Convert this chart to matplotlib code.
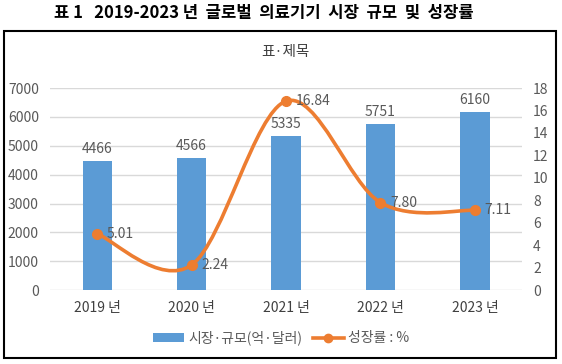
"""
2019-2023 global medical device market size (bars) and growth rate (smoothed line).
"""

import matplotlib.pyplot as plt
from matplotlib.lines import Line2D
from matplotlib.patches import Patch, PathPatch, Rectangle
from matplotlib.path import Path

plt.rcParams['font.family'] = ['Noto Sans CJK KR', 'DejaVu Sans']

# --- data ---
years = ["2019 년", "2020 년", "2021 년", "2022 년", "2023 년"]
market_size = [4466, 4566, 5335, 5751, 6160]
growth_rate = [5.01, 2.24, 16.84, 7.80, 7.11]

BAR_COLOR = "#5B9BD5"
LINE_COLOR = "#ED7D31"
TEXT_GRAY = "#595959"


def smooth_path(xs, ys, tension=1 / 6):
    """Excel-style smoothed line as cubic Bezier segments (Catmull-Rom controls)."""
    n = len(xs)
    verts = [(xs[0], ys[0])]
    codes = [Path.MOVETO]
    for i in range(n - 1):
        x0, y0 = (xs[i - 1], ys[i - 1]) if i > 0 else (xs[i], ys[i])
        x3, y3 = (xs[i + 2], ys[i + 2]) if i + 2 < n else (xs[i + 1], ys[i + 1])
        x1, y1 = xs[i], ys[i]
        x2, y2 = xs[i + 1], ys[i + 1]
        c1 = (x1 + (x2 - x0) * tension, y1 + (y2 - y0) * tension)
        c2 = (x2 - (x3 - x1) * tension, y2 - (y3 - y1) * tension)
        verts += [c1, c2, (x2, y2)]
        codes += [Path.CURVE4] * 3
    return Path(verts, codes)


fig = plt.figure(figsize=(5.62, 3.64), dpi=100)
ax = fig.add_axes([0.089, 0.203, 0.84, 0.555])
ax2 = ax.twinx()

xpos = list(range(len(years)))

# --- bars ---
ax.bar(xpos, market_size, width=0.31, color=BAR_COLOR, zorder=2)
for x, v in zip(xpos, market_size):
    ax.text(x, v + 180, f"{v}", ha="center", va="bottom", fontsize=10, color=TEXT_GRAY)

ax.set_ylim(0, 7000)
ax.set_yticks(range(0, 7001, 1000))
ax.set_xlim(-0.5, len(years) - 0.5)
ax.set_xticks(xpos)
ax.set_xticklabels(years, fontsize=10, color="#404040")
ax.tick_params(axis="y", labelsize=10, labelcolor=TEXT_GRAY, length=0, pad=8)
ax.tick_params(axis="x", length=0, pad=8)
ax.grid(True, axis="y", color="#D9D9D9", linewidth=1, zorder=0)
ax.set_axisbelow(True)

# --- growth line ---
ax2.set_ylim(0, 18)
ax2.set_yticks(range(0, 19, 2))
ax2.tick_params(axis="y", labelsize=10, labelcolor=TEXT_GRAY, length=0, pad=8)
ax2.add_patch(PathPatch(smooth_path(xpos, growth_rate), facecolor="none",
                        edgecolor=LINE_COLOR, linewidth=2.6, zorder=3))
ax2.plot(xpos, growth_rate, linestyle="none", marker="o", markersize=7,
         color=LINE_COLOR, zorder=4)
for x, v in zip(xpos, growth_rate):
    ax2.text(x + 0.1, v, f"{v:.2f}", ha="left", va="center", fontsize=10, color=TEXT_GRAY, zorder=5)

for a in (ax, ax2):
    for s in a.spines.values():
        s.set_visible(False)

# --- titles, legend, frame ---
fig.text(0.469, 1 - 13 / 364, "표 1   2019-2023 년  글로벌  의료기기  시장  규모  및  성장률",
         ha="center", va="center", fontsize=12, fontweight="bold", color="black")
fig.text(0.507, 1 - 52 / 364, "표·제목", ha="center", va="center", fontsize=10.5, color="#404040")

handles = [
    Patch(facecolor=BAR_COLOR, label="시장·규모(억·달러)"),
    Line2D([], [], color=LINE_COLOR, linewidth=2.6, marker="o", markersize=6, label="성장률 : %"),
]
fig.legend(handles=handles, loc="center", bbox_to_anchor=(0.5, 1 - 338 / 364), ncol=2,
           frameon=False, fontsize=10, handlelength=2.2, handletextpad=0.3, columnspacing=0.8,
           labelcolor=TEXT_GRAY)

fig.patches.append(Rectangle((4 / 562, 1 - 358 / 364), 552 / 562, 327 / 364,
                             transform=fig.transFigure, fill=False, edgecolor="black",
                             linewidth=1.5))

fig.savefig("out.png", dpi=100)
